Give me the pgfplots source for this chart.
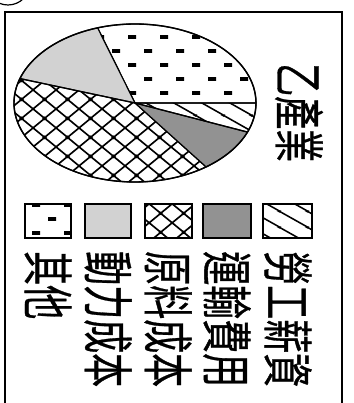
\documentclass[border=0pt]{standalone}
\usepackage{pgfplots}
\pgfplotsset{compat=1.18}
\usepackage{pgfplotstable}
\usepackage{graphicx}
\usepackage{fontspec}
\usetikzlibrary{patterns}
\newfontfamily\cjk{Noto Sans CJK TC}[FakeBold=0.8]
\definecolor{dkgrey}{HTML}{929292}
\definecolor{ltgrey}{HTML}{D2D2D2}

% short horizontal dashes, staggered (其他)
\pgfdeclarepatternformonly{shortdash}{\pgfpoint{-1pt}{-1pt}}{\pgfpoint{33pt}{29pt}}{\pgfpoint{32pt}{28pt}}{
  \pgfpathrectangle{\pgfpoint{0pt}{0pt}}{\pgfpoint{8pt}{3.8pt}}
  \pgfpathrectangle{\pgfpoint{16pt}{14pt}}{\pgfpoint{8pt}{3.8pt}}
  \pgfusepath{fill}}

% diamond cross-hatch (原料成本)
\pgfdeclarepatternformonly{xhatch}{\pgfpointorigin}{\pgfpoint{23pt}{19pt}}{\pgfpoint{23pt}{19pt}}{
  \pgfsetlinewidth{1.7pt}
  \pgfpathmoveto{\pgfpoint{-23pt}{-19pt}}\pgfpathlineto{\pgfpoint{46pt}{38pt}}
  \pgfpathmoveto{\pgfpoint{0pt}{-19pt}}\pgfpathlineto{\pgfpoint{46pt}{19pt}}
  \pgfpathmoveto{\pgfpoint{-23pt}{0pt}}\pgfpathlineto{\pgfpoint{23pt}{38pt}}
  \pgfpathmoveto{\pgfpoint{-23pt}{38pt}}\pgfpathlineto{\pgfpoint{46pt}{-19pt}}
  \pgfpathmoveto{\pgfpoint{-23pt}{19pt}}\pgfpathlineto{\pgfpoint{23pt}{-19pt}}
  \pgfpathmoveto{\pgfpoint{0pt}{38pt}}\pgfpathlineto{\pgfpoint{46pt}{0pt}}
  \pgfusepath{stroke}}

% sparse falling lines (勞工薪資)
\pgfdeclarepatternformonly{lhatch}{\pgfpointorigin}{\pgfpoint{28pt}{16pt}}{\pgfpoint{28pt}{16pt}}{
  \pgfsetlinewidth{1.6pt}
  \pgfpathmoveto{\pgfpoint{-28pt}{32pt}}\pgfpathlineto{\pgfpoint{56pt}{-16pt}}
  \pgfpathmoveto{\pgfpoint{-28pt}{16pt}}\pgfpathlineto{\pgfpoint{28pt}{-16pt}}
  \pgfpathmoveto{\pgfpoint{0pt}{32pt}}\pgfpathlineto{\pgfpoint{56pt}{0pt}}
  \pgfusepath{stroke}}

\tikzset{
  s0/.style={pattern=shortdash, pattern color=black},  % 其他
  s1/.style={fill=ltgrey},                             % 動力成本
  s2/.style={pattern=xhatch, pattern color=black},     % 原料成本
  s3/.style={fill=dkgrey},                             % 運輸費用
  s4/.style={pattern=lhatch, pattern color=black},     % 勞工薪資
}

% shares in percent, counter-clockwise from the 3 o'clock line
\pgfplotstableread{
item      pct
other     30
power     15
material  40
transport 9
labor     6
}\piedata

\newcommand{\lbl}[1]{\scalebox{1}[1.5]{\cjk\fontsize{34pt}{34pt}\selectfont #1}}

\begin{document}
\begin{tikzpicture}
% cumulative angles of the slices
\def\cum{0}
\pgfplotsforeachungrouped \i in {0,...,4}{%
  \pgfplotstablegetelem{\i}{pct}\of\piedata
  \pgfmathsetmacro\a{\cum*3.6}%
  \pgfmathsetmacro\cum{\cum+\pgfplotsretval}%
  \pgfmathsetmacro\b{\cum*3.6}%
  \expandafter\xdef\csname sA\i\endcsname{\a}%
  \expandafter\xdef\csname sB\i\endcsname{\b}%
}
\begin{axis}[
    x=1pt, y=1pt,
    xmin=0, xmax=353, ymin=0, ymax=403,
    hide axis,
    enlargelimits=false,
]
\coordinate (LL) at (axis cs:0,0);
\coordinate (UR) at (axis cs:353,403);
\fill[white] (axis cs:0,0) rectangle (axis cs:353,403);

% pie
\pgfplotsinvokeforeach{0,...,4}{
  \draw[s#1, line width=1.2pt, line join=round]
    (axis cs:135,300) -- ++(\csname sA#1\endcsname:121pt and 79pt)
    arc[start angle=\csname sA#1\endcsname, end angle=\csname sB#1\endcsname,
        x radius=121pt, y radius=79pt] -- cycle;
}
\draw[line width=1.4pt] (axis cs:135,300) ellipse [x radius=121pt, y radius=79pt];

% title
\node[rotate=-90, anchor=west, inner sep=0pt] at (axis cs:299,340)
  {\scalebox{1}[1.55]{\cjk\fontsize{33pt}{33pt}\selectfont 乙產業}};

% legend
\draw[s4, line width=1.6pt] (axis cs:263,165) rectangle (axis cs:312,199);
\draw[s3, line width=1.6pt] (axis cs:203,165) rectangle (axis cs:251,199);
\draw[s2, line width=1.6pt] (axis cs:145,165) rectangle (axis cs:192,199);
\draw[s1, line width=1.6pt] (axis cs:85,165) rectangle (axis cs:131,199);
\draw[s0, line width=1.6pt] (axis cs:25,165) rectangle (axis cs:71,199);

\node[rotate=-90, anchor=west, inner sep=0pt] at (axis cs:288,152) {\lbl{勞工薪資}};
\node[rotate=-90, anchor=west, inner sep=0pt] at (axis cs:227,152) {\lbl{運輸費用}};
\node[rotate=-90, anchor=west, inner sep=0pt] at (axis cs:168,152) {\lbl{原料成本}};
\node[rotate=-90, anchor=west, inner sep=0pt] at (axis cs:108,152) {\lbl{動力成本}};
\node[rotate=-90, anchor=west, inner sep=0pt] at (axis cs:48,152) {\lbl{其他}};

% frame and circled-number mark
\draw[line width=2.6pt] (axis cs:5,0) -- (axis cs:5,391) -- (axis cs:342,391) -- (axis cs:342,0);
\draw[line width=1.2pt] (axis cs:8,420) circle [radius=22pt];
\end{axis}
\pgfresetboundingbox
\useasboundingbox (LL) rectangle (UR);
\end{tikzpicture}
\end{document}
